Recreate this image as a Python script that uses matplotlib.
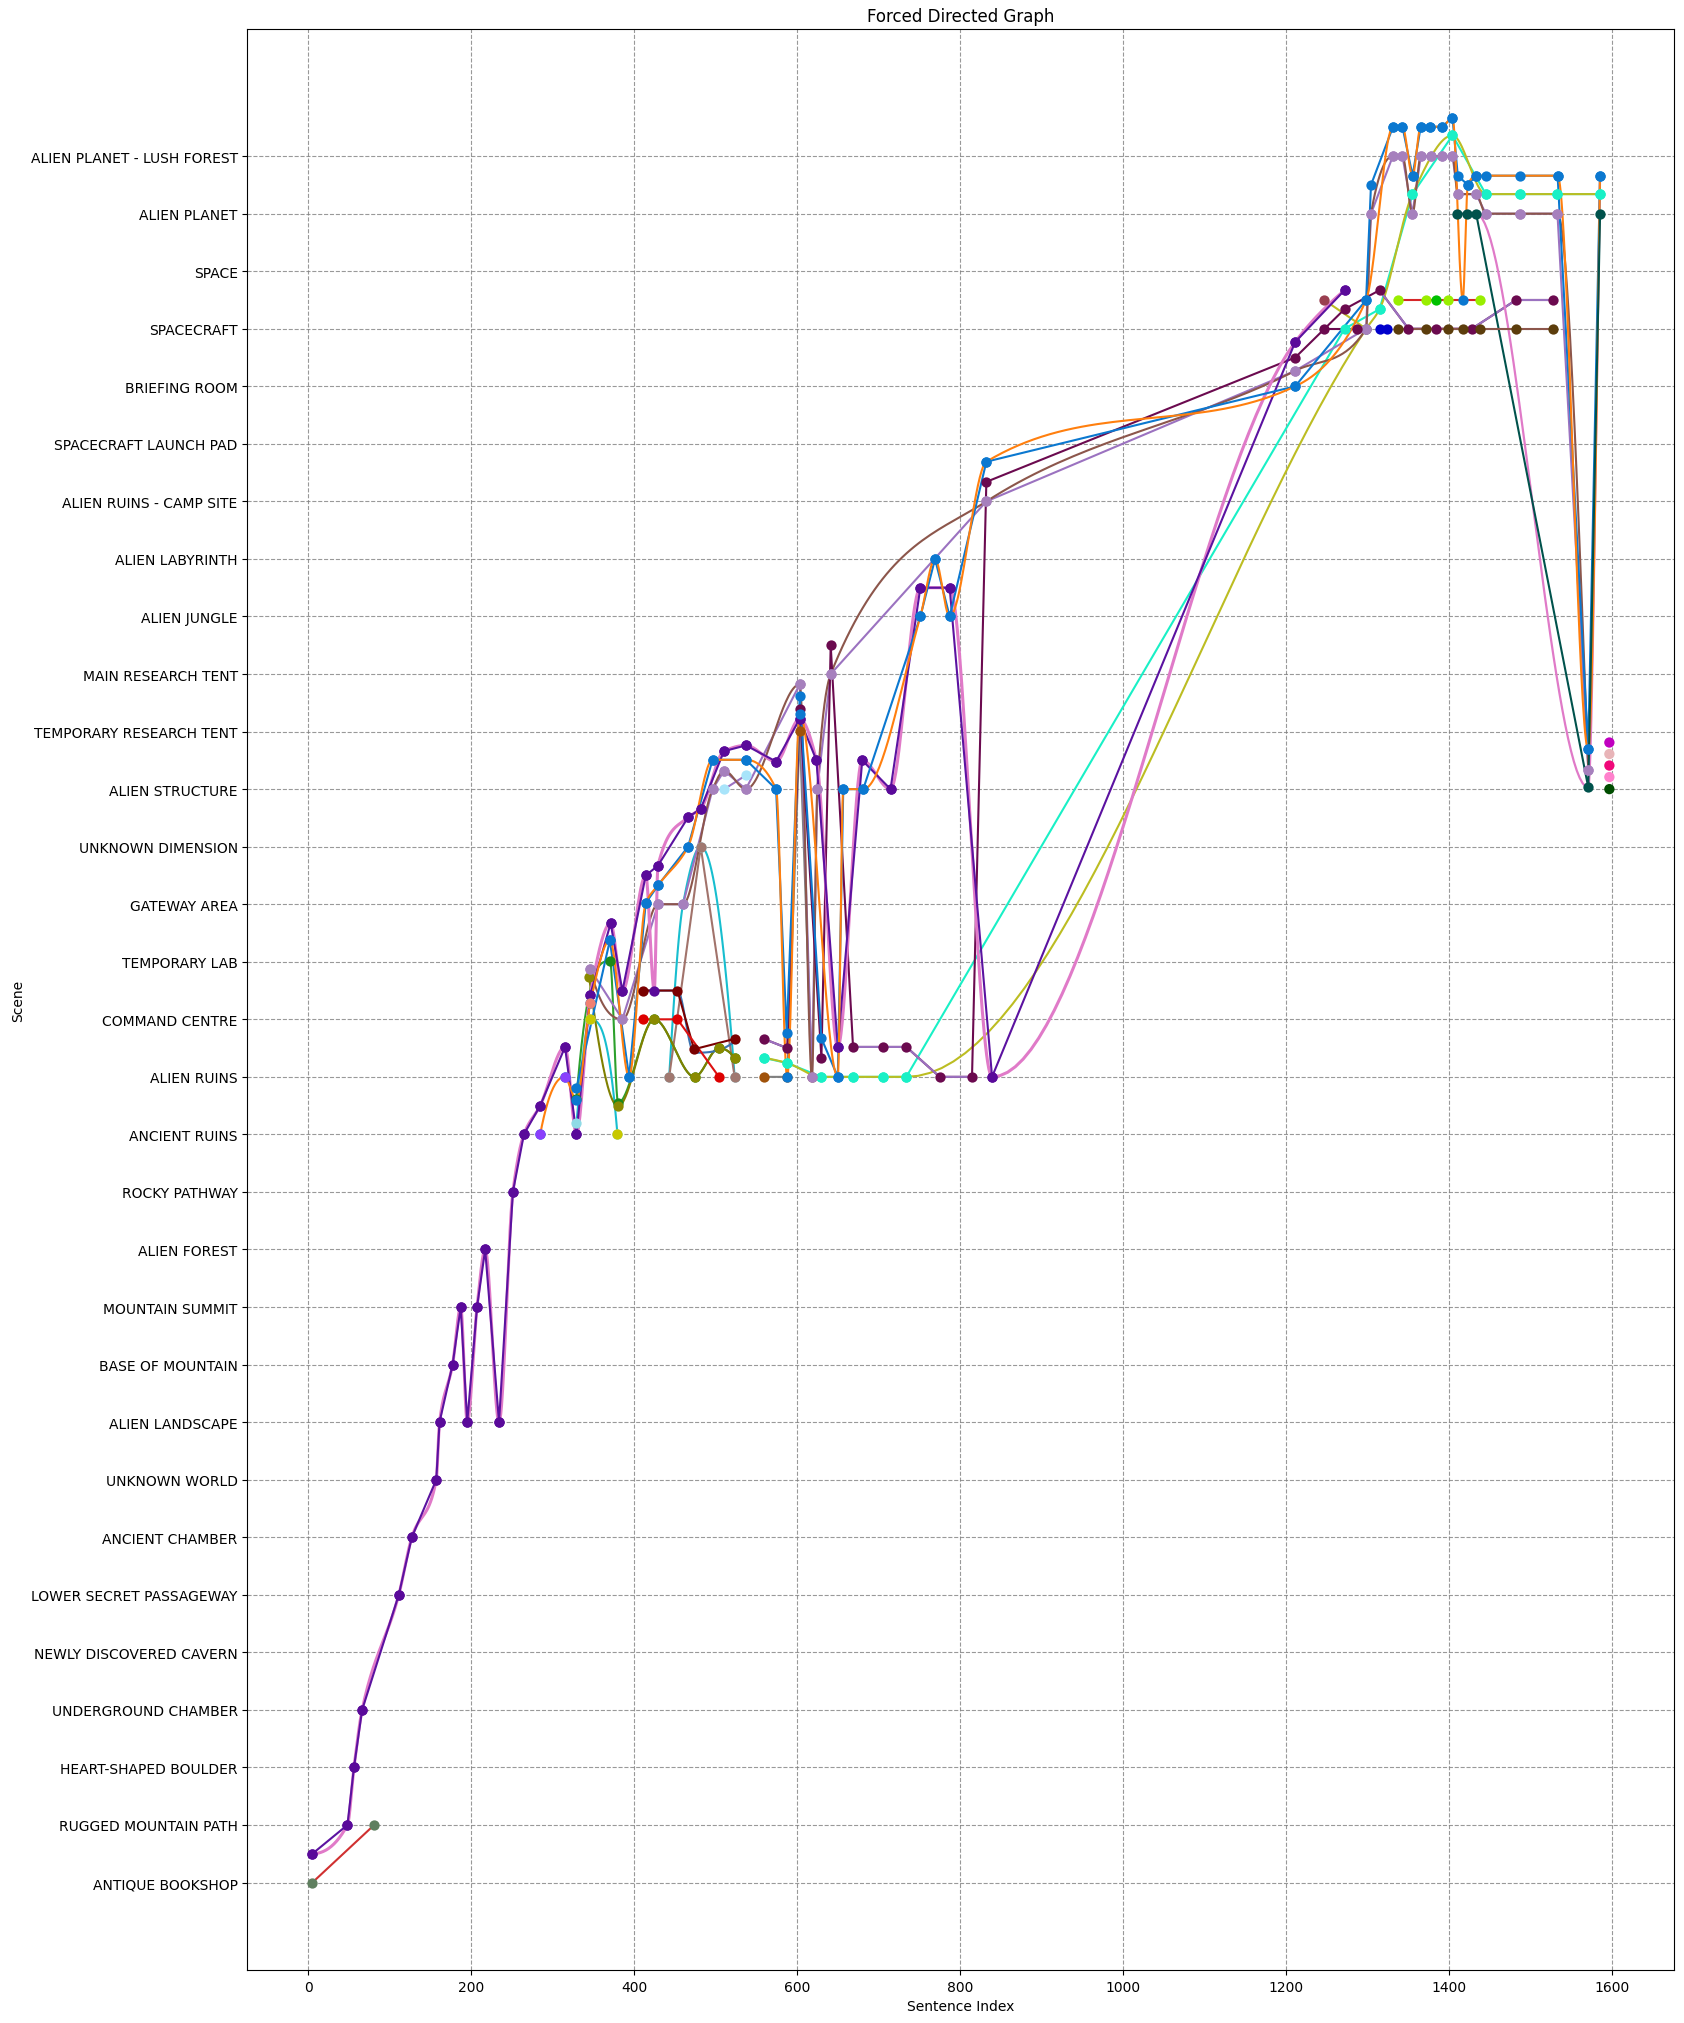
import numpy as np
import matplotlib
matplotlib.use("Agg")
import matplotlib.pyplot as plt

scenes = ["ANTIQUE BOOKSHOP", "RUGGED MOUNTAIN PATH", "HEART-SHAPED BOULDER", "UNDERGROUND CHAMBER",
          "NEWLY DISCOVERED CAVERN", "LOWER SECRET PASSAGEWAY", "ANCIENT CHAMBER", "UNKNOWN WORLD",
          "ALIEN LANDSCAPE", "BASE OF MOUNTAIN", "MOUNTAIN SUMMIT", "ALIEN FOREST", "ROCKY PATHWAY",
          "ANCIENT RUINS", "ALIEN RUINS", "COMMAND CENTRE", "TEMPORARY LAB", "GATEWAY AREA",
          "UNKNOWN DIMENSION", "ALIEN STRUCTURE", "TEMPORARY RESEARCH TENT", "MAIN RESEARCH TENT",
          "ALIEN JUNGLE", "ALIEN LABYRINTH", "ALIEN RUINS - CAMP SITE", "SPACECRAFT LAUNCH PAD",
          "BRIEFING ROOM", "SPACECRAFT", "SPACE", "ALIEN PLANET", "ALIEN PLANET - LUSH FOREST"]

# ---------------- data (sentence index, scene position) ----------------
start_x = [5, 80.8]
start_y = [0, 1]

indigo_x = [5, 48, 56, 66, 111, 127, 157, 161, 177, 187, 195, 207, 217, 234, 251, 264.5, 284.5, 315, 329, 346,
            371, 385.4, 414, 429, 466, 481.5, 510, 537, 574, 603, 623.5, 649.7, 679.7, 714.4, 751, 787, 839,
            1211, 1271.5]
indigo_y = [0.5, 1, 2, 3, 5, 6, 7, 8, 9, 10, 8, 10, 11, 8, 12, 13, 13.5, 14.52, 13, 15.43,
            16.67, 15.49, 17.5, 17.67, 18.51, 18.66, 19.66, 19.76, 19.48, 20.22, 19.5, 14.52, 19.5, 19.0, 22.5,
            22.5, 14.0, 26.77, 27.67]

pink_x = [5, 48, 56, 66, 111, 127, 157, 161, 177, 187, 195, 207, 217, 234, 251, 264.5, 284.5, 315, 329, 346,
          371, 385.4, 414, 424.5, 429, 466, 481.5, 510, 537, 574, 603, 623.5, 649.7, 679.7, 714.4, 751, 787, 839,
          1211, 1271.5]
pink_y = [0.5, 1, 2, 3, 5, 6, 7, 8, 9, 10, 8, 10, 11, 8, 12, 13, 13.5, 14.52, 13, 15.43,
          16.67, 15.49, 17.5, 15.5, 17.67, 18.51, 18.66, 19.66, 19.76, 19.48, 20.22, 19.5, 14.52, 19.5, 19.0, 22.5,
          22.5, 14.0, 26.77, 27.67]

pink2_x = [1409.2, 1421.5, 1433, 1570.6, 1585.1]
pink2_y = [29.0, 29.0, 29.0, 19.03, 29.66]

blue_x = [329, 370, 393.6, 414, 429.2, 466, 496, 537, 574, 587, 603, 629.6, 649.7, 656.4, 680.9, 751, 769, 787,
          832, 1211, 1298, 1304, 1331, 1342.6, 1355, 1365, 1377, 1391, 1404, 1410.5, 1422.8, 1433, 1445, 1487,
          1533, 1570.6, 1585]
blue_y = [13.8, 16.37, 14.0, 17.02, 17.33, 18.0, 19.51, 19.51, 19.0, 14.76, 20.61, 14.67, 14.0, 19.0, 19.0, 22.0,
          23.0, 22.0, 24.69, 26.0, 27.5, 29.5, 30.51, 30.51, 29.66, 30.51, 30.51, 30.51, 30.67, 29.66, 29.5, 29.66,
          29.66, 29.66, 29.66, 19.69, 29.66]

orange_x = [284.5, 314.4, 329, 346, 370, 393.6, 414, 429.2, 466, 496, 537, 574, 587.6, 603, 649.7, 656.4, 680.9,
            751, 769, 787, 832, 1211, 1298, 1331, 1342.6, 1355, 1365, 1377, 1391, 1404, 1416.6, 1422.8, 1433,
            1533, 1570.6, 1585]
orange_y = [13.0, 14.0, 13.6, 15.28, 16.37, 14.0, 17.02, 17.33, 18.0, 19.51, 19.51, 19.0, 14.0, 20.3, 14.0, 19.0,
            19.0, 22.0, 23.0, 22.0, 24.69, 26.0, 27.5, 30.51, 30.51, 29.66, 30.51, 30.51, 30.51, 30.67, 27.5, 29.5,
            29.66, 29.66, 19.69, 29.66]

brown_x = [346, 385.4, 429.2, 459.8, 496, 510.3, 536.9, 603, 618, 624.5, 641, 832, 1211, 1298, 1304, 1330.8,
           1342.6, 1354.9, 1365.1, 1377.4, 1390.9, 1404, 1410.5, 1433, 1444.9, 1487, 1532.8, 1570.6]
brown_y = [15.87, 15.0, 17.0, 17.0, 19.0, 19.32, 19.0, 20.82, 14.0, 19.0, 21.0, 24.0, 26.27, 27.0, 29.0, 30.0,
           30.0, 29.0, 30.0, 30.0, 30.0, 30.0, 29.34, 29.34, 29.0, 29.0, 29.0, 19.34]

maroon_x = [559, 587.6, 603, 629.6, 641, 668.4, 704.8, 733.8, 774.7, 814.4, 832, 1211, 1271.5, 1314.5, 1350,
            1384, 1427.7, 1482, 1527]
maroon_y = [14.66, 14.5, 20.4, 14.33, 21.5, 14.52, 14.52, 14.52, 14.0, 14.0, 24.34, 26.5, 27.34, 27.67, 27.0,
            27.0, 27.0, 27.5, 27.5]

lav2_x = [559, 587.6, None, 668.4, 704.8, 733.8, 774.7, 814.4, None, 1314.5, 1350, 1384, 1427.7, 1482, 1527]
lav2_y = [14.66, 14.5, None, 14.52, 14.52, 14.52, 14.0, 14.0, None, 27.67, 27.0, 27.0, 27.0, 27.5, 27.5]

cyan_x = [329, 346, 379.3, None, 442.8, 459.8, 481.5, 523.1]
cyan_y = [13.19, 15.0, 13.0, None, 14.0, 17.0, 18.0, 14.0]

rosy_x = [442.8, 481.5, 523.1]
rosy_y = [14.0, 18.0, 14.0]

yellow_x = [346, 379.3]
yellow_y = [15.0, 13.0]

olive_x = [344.6, 380.1, 424.5, 474, 503.9, 523.1]
olive_y = [15.73, 13.49, 15.0, 14.0, 14.5, 14.33]

green_x = [329, 370.2, 380.1, 424.5, 474, 503.9, 523.1]
green_y = [13.62, 16.01, 13.55, 15.0, 14.0, 14.5, 14.33]

red_x = [410.1, 453, 503.9]
red_y = [15.0, 15.0, 14.0]

darkred_x = [410.1, 453, 473.3, 523.1]
darkred_y = [15.5, 15.5, 14.48, 14.66]

steel_x = [410.1, 453, 473.3, 523.1]
steel_y = [15.5, 15.5, 14.42, 14.62]

gray_x = [559, 587.6, 603, 618]
gray_y = [14.0, 14.0, 20.01, 14.0]

aqua_x = [559, 587.6, 629.6, 668.4, 704.8, 733.8, 1271.5, 1314.5, 1354.9, 1404, 1444.9, 1487, 1532.8, 1585.1]
aqua_y = [14.33, 14.24, 14.0, 14.0, 14.0, 14.0, 27.0, 27.34, 29.34, 30.36, 29.34, 29.34, 29.34, 29.34]

olivey_x = [559, 587.6, 629.6, 668.4, 704.8, 733.8, 1298, 1314.5, 1354.9, 1404, 1444.9, 1487, 1532.8, 1585.1]
olivey_y = [14.33, 14.24, 14.0, 14.0, 14.0, 14.0, 27.0, 27.34, 29.34, 30.36, 29.34, 29.34, 29.34, 29.34]

oshort_x = [1246.6, 1298]
oshort_y = [27.5, 27.0]

teal_x = [1409.2, 1421.5, 1433, 1570.6, 1585.1]
teal_y = [29.0, 29.0, 29.0, 19.03, 29.0]

dbrown_x = [1336.6, 1371.7, 1397.9, 1416.6, 1437.9, 1482, 1527.1]
dbrown_y = [27.0, 27.0, 27.0, 27.0, 27.0, 27.0, 27.0]

lime_x = [1336.6, 1371.7, 1397.9, 1437.9]
lime_y = [27.5, 27.5, 27.5, 27.5]

green2_x = [1384]
green2_y = [27.5]

blue2_x = [1314.5, 1323.5]
blue2_y = [27.0, 27.0]

maroon2_x = [1246.6, 1286.7]
maroon2_y = [27.0, 27.0]

lblue_x = [510.3, 536.9]
lblue_y = [19.0, 19.24]

violet_x = [284.5, 314.4]
violet_y = [13.0, 14.0]

salmon_x = [346]
salmon_y = [15.28]

end_x = [1596.5, 1596.5, 1596.5, 1596.5, 1596.5]
end_y = [19.81, 19.61, 19.41, 19.21, 19.0]
end_colors = ["#c000c0", "#e8b4b8", "#f0087a", "#ff80cc", "#004d00"]


# ---------------- helpers ----------------
def segments(xs, ys):
    segs, cx, cy = [], [], []
    for a, b in zip(xs, ys):
        if a is None:
            if cx:
                segs.append((cx, cy))
            cx, cy = [], []
        else:
            cx.append(a)
            cy.append(b)
    if cx:
        segs.append((cx, cy))
    return segs


def pchip(x, y, n=40):
    x = np.asarray(x, float)
    y = np.asarray(y, float)
    m = len(x)
    if m < 3:
        return x, y
    h = np.diff(x)
    d = np.diff(y) / h
    s = np.zeros(m)
    for k in range(1, m - 1):
        if d[k - 1] * d[k] > 0:
            w1 = 2 * h[k] + h[k - 1]
            w2 = h[k] + 2 * h[k - 1]
            s[k] = (w1 + w2) / (w1 / d[k - 1] + w2 / d[k])

    def end(h0, h1, d0, d1):
        v = ((2 * h0 + h1) * d0 - h0 * d1) / (h0 + h1)
        if np.sign(v) != np.sign(d0):
            v = 0.0
        elif np.sign(d0) != np.sign(d1) and abs(v) > abs(3 * d0):
            v = 3 * d0
        return v

    s[0] = end(h[0], h[1], d[0], d[1])
    s[-1] = end(h[-1], h[-2], d[-1], d[-2])
    t = np.linspace(0, 1, n)
    ox, oy = [], []
    for k in range(m - 1):
        tt = t if k == 0 else t[1:]
        h00 = 2 * tt ** 3 - 3 * tt ** 2 + 1
        h10 = tt ** 3 - 2 * tt ** 2 + tt
        h01 = -2 * tt ** 3 + 3 * tt ** 2
        h11 = tt ** 3 - tt ** 2
        ox.append(x[k] + tt * h[k])
        oy.append(h00 * y[k] + h10 * h[k] * s[k] + h01 * y[k + 1] + h11 * h[k] * s[k + 1])
    return np.concatenate(ox), np.concatenate(oy)


# (x, y, line colour, marker colour, smooth, line width)
series = [
    (start_x, start_y, "#d03030", "#5f7f5f", False, 1.5),
    (cyan_x, cyan_y, "#17becf", "#8fdbe6", True, 1.5),
    (rosy_x, rosy_y, "#a1736b", "#a07870", False, 1.5),
    (yellow_x, yellow_y, None, "#c8c800", False, 1.5),
    (green_x, green_y, "#2ca02c", "#1a8a1a", True, 1.5),
    (olive_x, olive_y, "#808000", "#8a8a00", True, 1.5),
    (steel_x, steel_y, "#3b72b0", None, True, 1.5),
    (darkred_x, darkred_y, "#7a0000", "#7a0000", False, 1.5),
    (red_x, red_y, "#dd1111", "#dd0000", False, 1.5),
    (gray_x, gray_y, "#808080", "#a0520a", False, 1.5),
    (aqua_x, aqua_y, "#19f0c6", "#19f0c6", False, 1.5),
    (olivey_x, olivey_y, "#bcbd22", "#19f0c6", True, 1.5),
    (oshort_x, oshort_y, "#bcbd22", "#9a3f50", False, 1.5),
    (lblue_x, lblue_y, "#9b72c0", "#a8e4fa", False, 1.5),
    (brown_x, brown_y, "#9b72c0", "#a680bd", False, 1.5),
    (brown_x, brown_y, "#8c564b", "#a680bd", True, 1.5),
    (maroon_x, maroon_y, "#6b0a4f", "#6b0a4f", False, 1.5),
    (lav2_x, lav2_y, "#9b72c0", None, False, 1.5),
    (maroon2_x, maroon2_y, "#6b0a4f", "#6b0a4f", False, 1.5),
    (pink_x, pink_y, "#e07ac8", "#5a0a9a", True, 2.2),
    (pink2_x, pink2_y, "#e07ac8", None, True, 1.6),
    (indigo_x, indigo_y, "#5b12a0", "#5a0a9a", False, 1.5),
    (blue_x, blue_y, "#0b78d0", "#0b78d0", False, 1.5),
    (orange_x, orange_y, "#ff7f0e", "#0b78d0", True, 1.5),
    (teal_x, teal_y, "#00524c", "#00524c", False, 1.5),
    (dbrown_x, dbrown_y, "#8c564b", "#5c3d0c", False, 1.5),
    (lime_x, lime_y, "#d62728", "#99ee00", False, 1.5),
    (green2_x, green2_y, None, "#00c000", False, 1.5),
    (blue2_x, blue2_y, "#b0b0d0", "#0000cc", False, 2.0),
    (violet_x, violet_y, None, "#8a3ffc", False, 1.5),
    (salmon_x, salmon_y, None, "#f08070", False, 1.5),
]

fig = plt.figure(figsize=(16.84, 20.24), dpi=100)
ax = fig.add_axes([0.1469, 0.0262, 0.8473, 0.959])

for xs, ys, lc, mc, smooth, lw in series:
    if lc is None:
        continue
    for sx, sy in segments(xs, ys):
        if smooth and len(sx) >= 3:
            cx, cy = pchip(sx, sy)
        else:
            cx, cy = sx, sy
        ax.plot(cx, cy, color=lc, lw=lw, zorder=2, solid_capstyle="round")

for xs, ys, lc, mc, smooth, lw in series:
    if mc is None:
        continue
    for sx, sy in segments(xs, ys):
        ax.scatter(sx, sy, s=55, color=mc, zorder=3, linewidths=0)

ax.scatter(end_x, end_y, s=55, c=end_colors, zorder=3, linewidths=0)

ax.set_yticks(range(len(scenes)))
ax.set_yticklabels(scenes)
ax.set_xticks(range(0, 1601, 200))
ax.set_xlim(-74.8, 1676.1)
ax.set_ylim(-1.52, 32.21)
ax.grid(True, linestyle="--", color="gray", linewidth=0.8, alpha=0.8)
ax.set_axisbelow(True)
ax.set_title("Forced Directed Graph")
ax.set_xlabel("Sentence Index")
ax.set_ylabel("Scene")

fig.savefig("out.png", dpi=100)
